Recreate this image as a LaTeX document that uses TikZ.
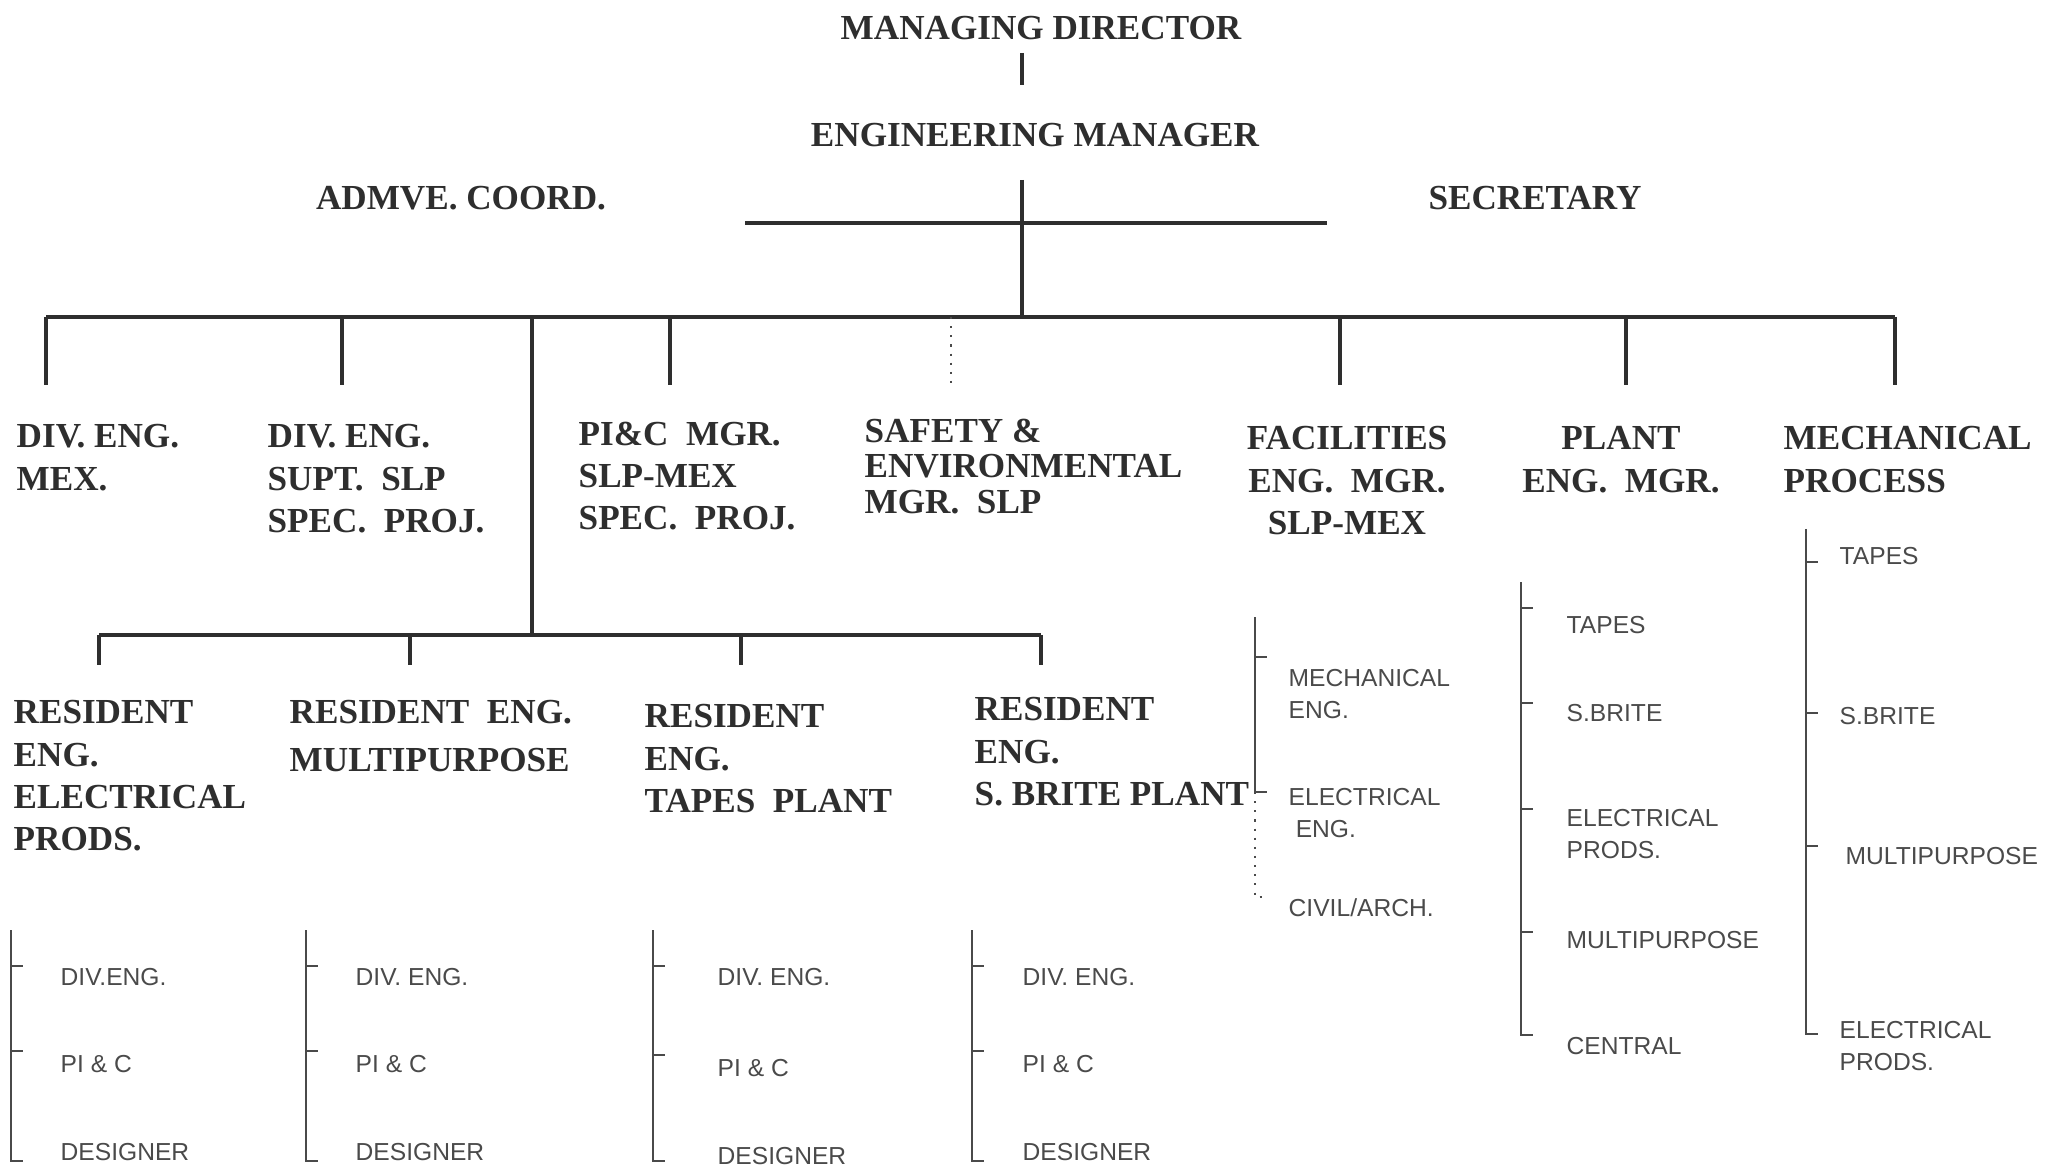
\documentclass[tikz,border=0pt]{standalone}
\usepackage{fontspec}
\setmainfont{Liberation Serif}
\setsansfont{Liberation Sans}
\usetikzlibrary{positioning}

\definecolor{ink}{HTML}{2E2E2E}
\definecolor{pale}{HTML}{4A4A4A}

\tikzset{
  post/.style={font=\bfseries\fontsize{10}{12}\selectfont, text=ink, inner sep=0pt, align=left, anchor=north west},
  sub/.style={font=\sffamily\fontsize{7}{9}\selectfont, text=pale, inner sep=0pt, align=left, anchor=base west},
  trunk/.style={draw=ink, line width=1.2pt},
  twig/.style={draw=pale, line width=0.5pt},
}

\begin{document}
\begin{tikzpicture}[x=0.1mm,y=-0.1mm]
\useasboundingbox (0,0) rectangle (2060,1166);

% top of the chart
\node[post,anchor=base] (md) at (1041,40) {MANAGING DIRECTOR};
\node[post,anchor=base] (em) at (1035,147) {ENGINEERING MANAGER};
\node[post,anchor=base] (admve) at (461,210) {ADMVE. COORD.};
\node[post,anchor=base] (secr) at (1535,210) {SECRETARY};

\coordinate (mdfoot) at (1022,53);
\coordinate (emtop) at (1022,85);
\coordinate (emfoot) at (1022,180);
\coordinate (staffL) at (745,223);
\coordinate (staffR) at (1327,223);
\coordinate (busL) at (46,317);
\coordinate (busR) at (1895,317);
\draw[trunk] (mdfoot) -- (emtop);
\draw[trunk] (emfoot) -- (emfoot|-busL);
\draw[trunk] (staffL) -- (staffR);
\draw[trunk] (busL) -- (busR);

% second level
\node[post] (dme) at (16,424) {DIV. ENG.\\MEX.};
\node[post] (dss) at (267,424) {DIV. ENG.\\SUPT.\enspace SLP\\SPEC.\enspace PROJ.};
\node[post] (pic) at (578,421) {PI\&C\enspace MGR.\\SLP-MEX\\SPEC.\enspace PROJ.};
\node[post,font=\bfseries\fontsize{10}{10.2}\selectfont] (saf) at (864,418) {SAFETY \&\\ENVIRONMENTAL\\MGR.\enspace SLP};
\node[post,anchor=north,align=center] (fac) at (1347,426) {FACILITIES\\ENG.\enspace MGR.\\SLP-MEX};
\node[post,anchor=north,align=center] (pem) at (1621,426) {PLANT\\ENG.\enspace MGR.};
\node[post] (mp) at (1783,426) {MECHANICAL\\PROCESS};

\foreach \x in {46,342,670,1340,1626,1895}
  \draw[trunk] (\x,317) -- (\x,385);
\draw[draw=pale,line width=0.6pt,dotted] (951,317) -- (951,385);

% resident engineers
\coordinate (rebus) at (532,635);
\draw[trunk] (532,317) -- (rebus);
\draw[trunk] (99,635) -- (1041,635);
\foreach \x in {99,410,741,1041}
  \draw[trunk] (\x,635) -- (\x,665);

\node[post] (rep) at (13,700) {RESIDENT\\ENG.\\ELECTRICAL\\PRODS.};
\node[post,font=\bfseries\fontsize{10}{13.4}\selectfont] (rem) at (289,700) {RESIDENT\enspace ENG.\\MULTIPURPOSE};
\node[post] (ret) at (644,704) {RESIDENT\\ENG.\\TAPES\enspace PLANT};
\node[post] (res) at (974,697) {RESIDENT\\ENG.\\S. BRITE PLANT};

% sections under each resident engineer
\foreach \n/\bx/\lx/\dv/\dy in {a/11/60/DIV.ENG./0, b/306/355/DIV. ENG./0, c/653/717/DIV. ENG./4, d/972/1022/DIV. ENG./0} {
  \draw[twig] (\bx,930) -- (\bx,1161) -- (\bx+12,1161);
  \draw[twig] (\bx,966) -- (\bx+12,966);
  \draw[twig] (\bx,1051+\dy) -- (\bx+12,1051+\dy);
  \node[sub] (\n1) at (\lx,985) {\dv};
  \node[sub] (\n2) at (\lx,1072+\dy) {PI \& C};
  \node[sub] (\n3) at (\lx,1160+\dy) {DESIGNER};
}

% facilities
\draw[twig] (1255,617) -- (1255,792);
\draw[twig] (1255,657) -- (1267,657);
\draw[twig] (1255,792) -- (1267,792);
\draw[draw=pale,line width=0.6pt,dotted] (1255,792) -- (1255,897) -- (1266,897);
\node[sub,anchor=north west] (f1) at (1288,669) {MECHANICAL\\ENG.};
\node[sub,anchor=north west] (f2) at (1288,788) {ELECTRICAL\\\hspace{2pt}ENG.};
\node[sub] (f3) at (1288,916) {CIVIL/ARCH.};

% plant engineering
\draw[twig] (1521,582) -- (1521,1035) -- (1533,1035);
\foreach \y in {608,703,809,932}
  \draw[twig] (1521,\y) -- (1533,\y);
\node[sub] (p1) at (1566,633) {TAPES};
\node[sub] (p2) at (1566,721) {S.BRITE};
\node[sub,anchor=north west] (p3) at (1566,809) {ELECTRICAL\\PRODS.};
\node[sub] (p4) at (1566,948) {MULTIPURPOSE};
\node[sub] (p5) at (1566,1054) {CENTRAL};

% mechanical process
\draw[twig] (1806,529) -- (1806,1034) -- (1818,1034);
\foreach \y in {562,713,846}
  \draw[twig] (1806,\y) -- (1818,\y);
\node[sub] (m1) at (1839,565) {TAPES};
\node[sub] (m2) at (1839,724) {S.BRITE};
\node[sub] (m3) at (1845,864) {MULTIPURPOSE};
\node[sub,anchor=north west] (m4) at (1839,1021) {ELECTRICAL\\PRODS.};
\end{tikzpicture}
\end{document}
